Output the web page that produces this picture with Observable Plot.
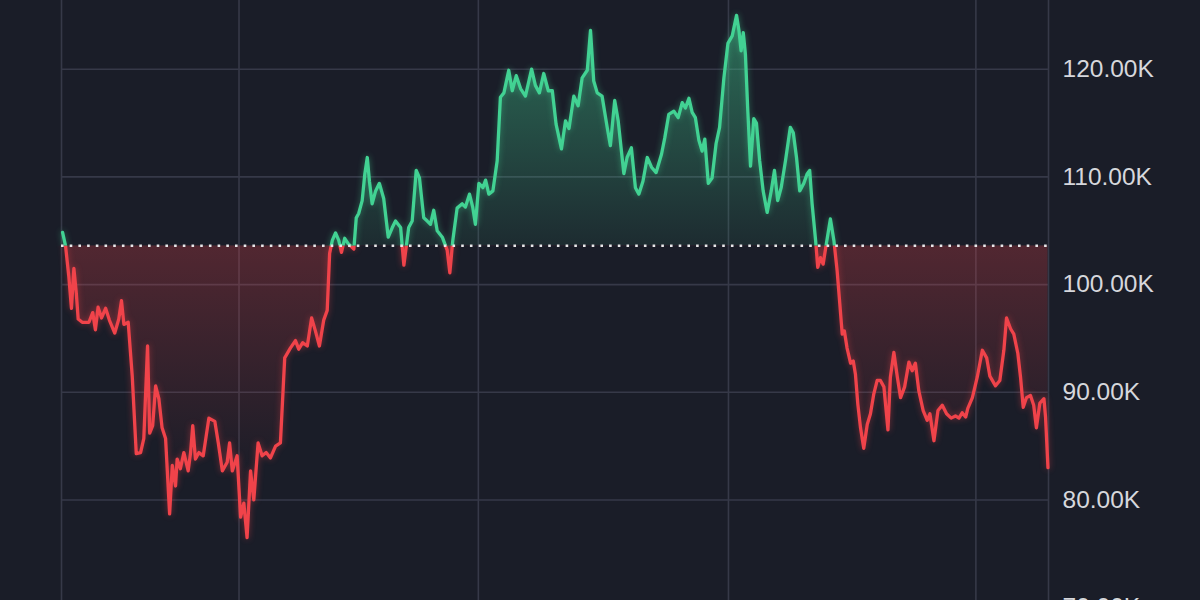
<!DOCTYPE html>
<html>
<head>
<meta charset="utf-8">
<script src="https://cdn.jsdelivr.net/npm/d3@7"></script>
<script src="https://cdn.jsdelivr.net/npm/@observablehq/plot@0.6"></script>
<style>
  html, body { margin: 0; padding: 0; background: #1a1d28; overflow: hidden; width: 1200px; height: 600px; }
  #chart svg { display: block; }
</style>
</head>
<body>
<div id="chart"></div>
<script>
// Days since 2025-01-25 and price in thousands (K)
const days = [
  0.4, 1.5, 2.7, 3.7, 4.6, 5.5, 6.2, 7.7, 10.2, 11.6, 12.6, 13.6, 14.9, 16.4, 17.8, 19.8, 21.3, 22.3, 23.2, 24.8,
  26.3, 27.8, 29.4, 30.6, 32.0, 32.8, 33.9, 35.0, 36.2, 37.4, 38.7, 40.2, 41.2, 42.4, 43.0, 44.2, 45.5, 47.1, 48.0, 48.8,
  49.8, 51.1, 52.7, 54.8, 57.0, 58.3, 59.8, 61.6, 62.5, 63.5, 65.3, 66.6, 67.8, 69.0, 70.3, 71.5, 73.1, 74.6, 76.1, 77.7,
  79.6, 81.4, 83.0, 85.1, 87.0, 88.2, 89.7, 91.4, 93.0, 94.4, 95.9, 97.5, 98.8, 99.7, 100.7, 101.9, 103.1, 104.1, 105.3, 106.6,
  108.7, 109.6, 110.5, 111.8, 112.8, 113.7, 114.5, 115.5, 116.8, 118.2, 119.8, 121.5, 123.0, 124.2, 126.1, 127.3, 129.1, 130.4, 131.9, 133.1,
  134.7, 136.0, 137.2, 138.4, 139.7, 141.6, 143.4, 144.4, 145.5, 147.1, 149.0, 150.2, 151.7, 152.9, 153.9, 155.2, 156.7, 157.7, 158.9, 160.4,
  162.0, 163.2, 164.5, 166.3, 167.6, 169.1, 170.7, 172.5, 174.8, 176.2, 177.7, 179.3, 181.0, 182.5, 183.9, 185.9, 187.4, 188.7, 190.5, 192.1,
  193.6, 195.5, 196.7, 197.9, 199.2, 201.0, 202.9, 204.1, 205.7, 207.0, 208.2, 209.1, 210.3, 211.9, 213.4, 214.7, 216.2, 217.8, 219.4, 221.1,
  223.1, 224.3, 225.8, 227.7, 229.3, 230.8, 232.0, 233.3, 234.5, 235.7, 237.0, 238.2, 239.2, 240.5, 241.9, 243.4, 244.7, 246.3, 247.8, 249.4,
  251.0, 251.9, 252.7, 253.5, 254.3, 255.2, 256.2, 257.4, 258.4, 259.6, 260.9, 262.4, 263.9, 265.1, 266.3, 267.6, 269.2, 271.0, 272.1, 273.3,
  274.5, 276.0, 277.3, 278.2, 279.1, 280.4, 281.2, 282.2, 283.2, 284.4, 285.9, 287.2, 288.4, 289.4, 290.3, 291.1, 292.1, 293.4, 294.4, 295.2,
  296.1, 297.1, 298.3, 299.6, 300.8, 302.0, 303.3, 304.5, 305.8, 307.3, 308.2, 309.5, 310.8, 312.0, 313.5, 315.1, 316.3, 317.5, 318.8, 320.4,
  321.9, 322.9, 324.4, 325.9, 327.5, 329.1, 330.8, 332.4, 333.7, 334.9, 336.2, 337.0, 338.7, 340.5, 342.4, 344.0, 345.2, 347.3, 348.9, 350.4,
  351.4, 352.9, 354.1, 355.6, 356.6, 357.6, 358.8, 360.3, 361.5, 362.5, 363.8, 365.3, 365.9, 366.8
];
const prices = [
  104.85, 103.6, 100.8, 97.8, 101.5, 99.2, 96.8, 96.5, 96.5, 97.4, 95.8, 97.9, 96.9, 97.8, 96.7, 95.5, 96.8, 98.5, 96.3, 96.5,
  91.5, 84.3, 84.4, 85.7, 94.3, 86.2, 86.9, 90.6, 89.4, 86.7, 85.7, 78.7, 83.2, 81.3, 83.8, 82.9, 84.4, 82.7, 84.4, 86.9,
  83.8, 84.4, 84.1, 87.6, 87.3, 85.3, 82.7, 83.5, 85.3, 82.7, 84.1, 78.4, 79.7, 76.5, 82.7, 80.0, 85.3, 84.1, 84.4, 83.9,
  85.0, 85.3, 93.2, 94.1, 94.8, 94.0, 94.6, 94.3, 96.9, 95.7, 94.3, 96.7, 97.6, 102.9, 104.1, 104.8, 104.1, 103.0, 104.3, 103.8,
  103.3, 106.2, 106.6, 107.8, 110.3, 111.8, 109.6, 107.5, 108.7, 109.4, 108.0, 104.4, 105.3, 105.9, 105.3, 101.8, 105.3, 105.9, 110.6, 109.9,
  106.2, 105.9, 105.6, 106.9, 105.0, 104.4, 103.2, 101.1, 104.1, 107.1, 107.5, 107.2, 108.4, 107.2, 105.6, 109.4, 109.0, 109.7, 108.4, 108.7,
  111.5, 117.4, 117.8, 119.9, 118.0, 119.4, 118.2, 117.5, 120.0, 118.5, 117.8, 119.6, 118.0, 118.0, 114.9, 112.6, 115.2, 114.5, 117.5, 116.6,
  119.2, 119.9, 123.6, 118.9, 117.8, 117.5, 114.6, 112.9, 117.1, 115.2, 112.4, 110.3, 111.8, 112.7, 109.0, 108.4, 109.6, 111.8, 110.9, 110.4,
  112.1, 113.6, 115.8, 116.1, 115.5, 116.9, 116.4, 117.3, 116.0, 115.5, 113.4, 112.4, 113.5, 109.4, 109.9, 113.1, 114.6, 119.2, 122.4, 123.1,
  125.0, 123.6, 121.7, 123.4, 121.4, 116.1, 111.0, 115.4, 115.0, 111.5, 108.7, 106.7, 108.7, 110.6, 107.8, 109.0, 111.5, 114.6, 114.1, 111.8,
  108.7, 109.4, 110.3, 110.6, 107.5, 104.1, 101.6, 102.5, 101.9, 103.8, 106.1, 104.1, 101.3, 98.2, 95.4, 95.7, 94.1, 92.7, 92.9, 91.7,
  88.9, 86.7, 84.8, 87.0, 88.0, 89.8, 91.1, 91.1, 90.5, 86.5, 91.4, 93.7, 91.4, 89.5, 90.5, 92.8, 92.0, 92.7, 90.1, 88.3,
  87.4, 88.0, 85.5, 88.3, 88.8, 88.0, 87.6, 87.8, 87.6, 88.1, 87.7, 88.5, 89.5, 91.4, 93.9, 93.2, 91.5, 90.6, 91.1, 93.9,
  96.9, 95.9, 95.4, 93.6, 91.4, 88.6, 89.5, 89.7, 88.8, 86.7, 89.0, 89.4, 87.7, 83.0
];
const baseline = 103.6;             // reference price (K)
const gridDays = [0, 66, 155, 248, 340, 367];  // vertical grid lines
const yTicks = [70, 80, 90, 100, 110, 120];

const GREEN = "#42d293";
const RED = "#f0434a";

const data = days.map((d, i) => ({day: d, v: prices[i]}));

const W = 1200, H = 640;
const plot = Plot.plot({
  width: W,
  height: H,
  marginLeft: 61,
  marginRight: 152,
  marginTop: 0,
  marginBottom: 0,
  style: {background: "transparent", color: "#d6d7dc", fontSize: "24.5px", fontFamily: "'Liberation Sans', Arial, sans-serif", overflow: "visible"},
  x: {domain: [0, 367], axis: null},
  y: {domain: [66.95, 126.38], axis: "right", ticks: yTicks, tickSize: 0, tickPadding: 14,
      tickFormat: d => d.toFixed(2) + "K", label: null},
  marks: [
    Plot.ruleY(yTicks, {stroke: "#363948", strokeWidth: 1.6}),
    Plot.ruleX(gridDays, {stroke: "#363948", strokeWidth: 1.6}),
    Plot.areaY(data, {x: "day", y1: () => baseline, y2: "v", fill: "url(#gradGreen)"}),
    Plot.areaY(data, {x: "day", y1: () => baseline, y2: "v", fill: "url(#gradRed)"}),
    Plot.line(data, {x: "day", y: "v", stroke: GREEN, strokeWidth: 3.3, strokeLinejoin: "round"}),
    Plot.line(data, {x: "day", y: "v", stroke: RED, strokeWidth: 3.3, strokeLinejoin: "round"}),
    Plot.ruleY([baseline], {stroke: "#e8e8ea", strokeWidth: 2.6, strokeDasharray: "2.6 6.1"})
  ]
});

const yScale = plot.scale("y");
const yb = yScale.apply(baseline);
const yTop = yScale.apply(125);
const yBot = yScale.apply(82);

const svg = d3.select(plot);
const defs = svg.insert("defs", ":first-child");
const gg = defs.append("linearGradient").attr("id", "gradGreen")
  .attr("gradientUnits", "userSpaceOnUse").attr("x1", 0).attr("x2", 0).attr("y1", yTop).attr("y2", yb);
gg.append("stop").attr("offset", 0).attr("stop-color", GREEN).attr("stop-opacity", 0.45);
gg.append("stop").attr("offset", 1).attr("stop-color", GREEN).attr("stop-opacity", 0.08);
const gr = defs.append("linearGradient").attr("id", "gradRed")
  .attr("gradientUnits", "userSpaceOnUse").attr("x1", 0).attr("x2", 0).attr("y1", yb).attr("y2", yBot);
gr.append("stop").attr("offset", 0).attr("stop-color", RED).attr("stop-opacity", 0.26);
gr.append("stop").attr("offset", 1).attr("stop-color", RED).attr("stop-opacity", 0.0);

defs.append("clipPath").attr("id", "clipAbove").append("rect")
  .attr("x", 0).attr("y", -50).attr("width", W).attr("height", yb + 50);
defs.append("clipPath").attr("id", "clipBelow").append("rect")
  .attr("x", 0).attr("y", yb).attr("width", W).attr("height", H - yb + 50);

const areas = plot.querySelectorAll('g[aria-label="area"]');
const lines = plot.querySelectorAll('g[aria-label="line"]');
if (areas.length === 2) {
  areas[0].setAttribute("clip-path", "url(#clipAbove)");
  areas[1].setAttribute("clip-path", "url(#clipBelow)");
}
if (lines.length === 2) {
  lines[0].setAttribute("clip-path", "url(#clipAbove)");
  lines[1].setAttribute("clip-path", "url(#clipBelow)");
  lines[0].querySelector("path").style.filter = "drop-shadow(0 0 3px rgba(66,210,147,0.45))";
  lines[1].querySelector("path").style.filter = "drop-shadow(0 0 3px rgba(240,67,74,0.45))";
}

document.getElementById("chart").appendChild(plot);
</script>
</body>
</html>
